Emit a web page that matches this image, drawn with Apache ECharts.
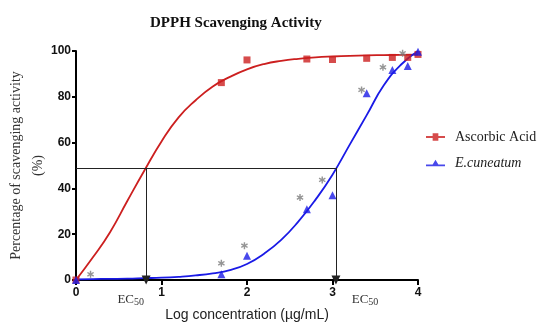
<!DOCTYPE html>
<html><head><meta charset="utf-8">
<script src="https://cdn.jsdelivr.net/npm/echarts@6/dist/echarts.min.js"></script>
<style>html,body{margin:0;padding:0;background:#fff}#c{width:539px;height:322px}</style>
</head><body><div id="c"></div>
<script>
// measured data (log concentration vs % scavenging)
const logConc = [0, 1.70, 2.00, 2.70, 3.00, 3.40, 3.70, 3.88, 4.00];
const ascorbicVals = [0, 86.2, 96.1, 96.5, 96.3, 96.8, 97.2, 97.2, 98.5];
const cuneatumVals = [0, 2.5, 10.6, 30.9, 37.0, 81.5, 91.7, 93.4, 99.7];
// significance asterisks
const starX = [0.17, 1.70, 1.97, 2.62, 2.88, 3.34, 3.59, 3.82];
const starY = [2.5, 7.3, 15.0, 36.0, 43.7, 83.0, 92.9, 99.0];
// fitted curves
const fitX = [0, 0.2, 0.4, 0.6, 0.8, 1.0, 1.2, 1.4, 1.6, 1.8, 2.0, 2.2, 2.4, 2.6, 2.8, 3.0, 3.2, 3.4, 3.6, 3.8, 4.0];
const ascFitY = [0, 10, 21, 34.5, 47.8, 60.5, 71, 78.5, 84.5, 88.7, 92, 94.3, 95.7, 96.6, 97.2, 97.6, 97.9, 98.1, 98.2, 98.3, 98.4];
const cunFitY = [0.3, 0.4, 0.5, 0.6, 0.8, 1.0, 1.4, 2.0, 2.9, 4.3, 7.0, 11.5, 17.5, 25.5, 35, 46, 59, 72, 85, 94, 100];
// EC50 guides
const halfLevel = 49;
const ec50 = [0.82, 3.04];
const ec50LabelX = [0.64, 3.38];
const xTicks = [0, 4, 1];
const yTicks = [0, 100, 20];

const zip = (a, b) => a.map((v, i) => [v, b[i]]);
const RED = '#cc1f1f', BLUE = '#1a1ae6';
const star = 'path://M4,0h2v3.3l2.9-1.7 1,1.7-2.9,1.7 2.9,1.7-1,1.7-2.9-1.7V10h-2V6.7L1.1,8.4 0.1,6.7 3,5 0.1,3.3 1.1,1.6 4,3.3z';

const chart = echarts.init(document.getElementById('c'));
chart.setOption({
  animation: false,
  title: { text: 'DPPH Scavenging Activity', left: 145, top: 11,
    textStyle: { fontFamily: 'Liberation Serif', fontWeight: 'bold', fontSize: 15, color: '#111' } },
  legend: {
    orient: 'vertical', left: 421, top: 125, itemWidth: 19, itemHeight: 8, itemGap: 12,
    textStyle: { fontFamily: 'Liberation Serif', fontSize: 14, color: '#222', padding: [0, 0, 0, 5] },
    data: [
      { name: 'Ascorbic Acid', icon: 'path://M0,4h7V1h6v3h7v2h-7v3h-6V6H0z', itemStyle: { color: RED } },
      { name: 'E.cuneatum', icon: 'path://M0,5h7L10,0 13,5h7v2H0z', itemStyle: { color: BLUE }, textStyle: { fontStyle: 'italic' } }
    ]
  },
  grid: { left: 76, right: 121, top: 51, bottom: 42, outerBoundsMode: 'none', containLabel: false },
  xAxis: {
    type: 'value', min: xTicks[0], max: xTicks[1], interval: xTicks[2],
    name: 'Log concentration (\u00b5g/mL)', nameLocation: 'middle', nameGap: 28, nameMoveOverlap: false,
    nameTextStyle: { fontFamily: 'Liberation Sans', fontSize: 14, color: '#222' },
    axisLine: { lineStyle: { color: '#000', width: 2 } },
    axisTick: { length: 5, lineStyle: { color: '#000', width: 2 } },
    axisLabel: { fontFamily: 'Liberation Sans', fontWeight: 'bold', fontSize: 12, color: '#111', margin: 7 },
    splitLine: { show: false }
  },
  yAxis: {
    type: 'value', min: yTicks[0], max: yTicks[1], interval: yTicks[2],
    name: 'Percentage of scavenging activity\n(%)', nameLocation: 'middle', nameGap: 27, nameMoveOverlap: false,
    nameTextStyle: { fontFamily: 'Liberation Serif', fontSize: 14, color: '#333', lineHeight: 22 },
    axisLine: { show: true, lineStyle: { color: '#000', width: 2 } },
    axisTick: { show: true, length: 4, lineStyle: { color: '#000', width: 2 } },
    axisLabel: { fontFamily: 'Liberation Sans', fontWeight: 'bold', fontSize: 12, color: '#111', margin: 5 },
    splitLine: { show: false }
  },
  series: [
    { name: 'ascFit', type: 'line', smooth: 0.5, showSymbol: false, data: zip(fitX, ascFitY),
      lineStyle: { color: RED, width: 1.8 }, z: 2,
      markLine: {
        silent: true, symbol: ['none', 'triangle'], symbolSize: [9, 9], label: { show: false },
        lineStyle: { color: '#222', width: 1, type: 'solid' }, itemStyle: { color: '#000' },
        data: [
          [{ coord: [0, halfLevel] }, { coord: [ec50[1], halfLevel], symbol: 'none' }],
          [{ coord: [ec50[0], halfLevel] }, { coord: [ec50[0], 0] }],
          [{ coord: [ec50[1], halfLevel] }, { coord: [ec50[1], 0] }]
        ]
      } },
    { name: 'cunFit', type: 'line', smooth: 0.5, showSymbol: false, data: zip(fitX, cunFitY),
      lineStyle: { color: BLUE, width: 1.8 }, z: 2 },
    { name: 'Ascorbic Acid', type: 'scatter', symbol: 'rect', symbolSize: 7, data: zip(logConc, ascorbicVals),
      itemStyle: { color: RED }, z: 3 },
    { name: 'E.cuneatum', type: 'scatter', symbol: 'triangle', symbolSize: 8, data: zip(logConc, cuneatumVals),
      itemStyle: { color: BLUE }, z: 4 },
    { name: 'sig', type: 'scatter', symbol: star, symbolSize: 7, data: zip(starX, starY),
      itemStyle: { color: '#7a7a7a' }, z: 5 }
  ]
});

const labels = ec50LabelX.map(x => {
  const p = chart.convertToPixel({ gridIndex: 0 }, [x, 0]);
  return {
    type: 'text', x: p[0], y: p[1] + 20,
    style: {
      text: 'EC{s|50}', align: 'center', verticalAlign: 'middle',
      font: '13px "Liberation Serif"', fill: '#333',
      rich: { s: { fontFamily: 'Liberation Serif', fontSize: 10, fill: '#333', padding: [5, 0, 0, 0] } }
    }
  };
});
chart.setOption({ graphic: labels });
</script></body></html>
